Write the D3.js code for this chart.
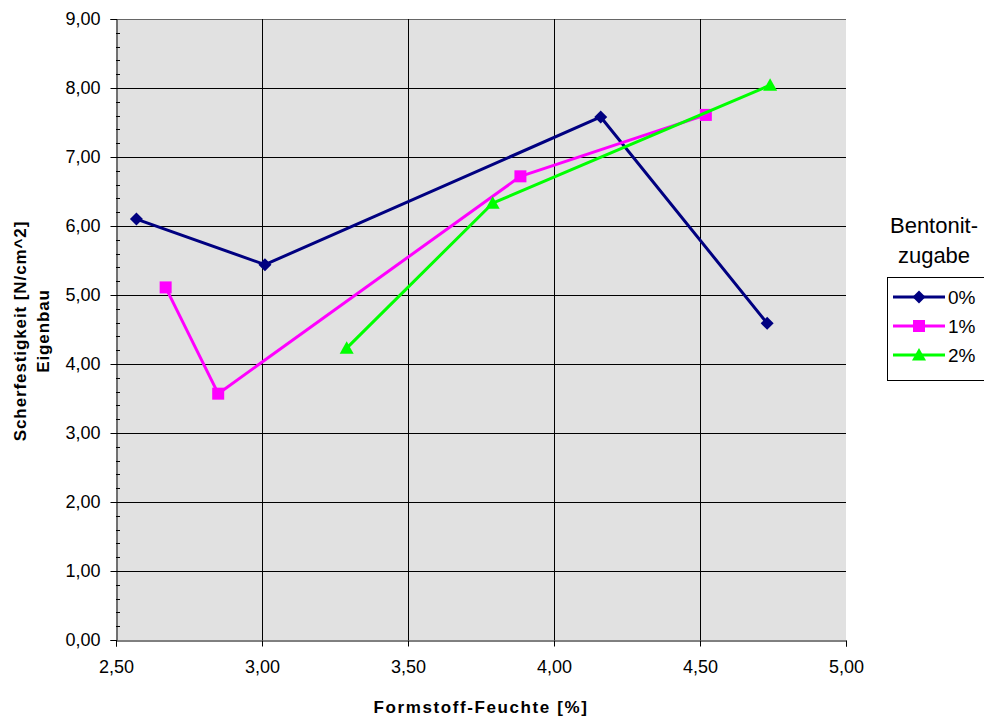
<!DOCTYPE html>
<html>
<head>
<meta charset="utf-8">
<script src="https://cdn.jsdelivr.net/npm/d3@7"></script>
<style>
  html, body { margin: 0; padding: 0; background: #fff; }
  svg { display: block; font-family: Arial, "Liberation Sans", sans-serif; }
</style>
</head>
<body>
<svg id="chart" width="984" height="721"></svg>
<script>
// ---- data ----
const seriesNames = ["0%", "1%", "2%"];
const seriesColors = ["#000080", "#ff00ff", "#00ff00"];
const seriesSymbols = ["diamond", "square", "triangle"];
const x0 = [2.57, 3.01, 4.16, 4.73];
const y0 = [6.10, 5.44, 7.58, 4.59];
const x1 = [2.67, 2.85, 3.885, 4.52];
const y1 = [5.11, 3.57, 6.72, 7.61];
const x2 = [3.29, 3.79, 4.74];
const y2 = [4.23, 6.33, 8.04];
const xTicks = [2.5, 3.0, 3.5, 4.0, 4.5, 5.0];
const yTicks = [0, 1, 2, 3, 4, 5, 6, 7, 8, 9];
const xTitle = "Formstoff-Feuchte [%]";
const yTitleLines = ["Scherfestigkeit [N/cm^2]", "Eigenbau"];
const legendTitle = ["Bentonit-", "zugabe"];

const seriesX = [x0, x1, x2];
const seriesY = [y0, y1, y2];

// ---- layout ----
const svg = d3.select("#chart");
const L = 116, R = 846, T = 19, B = 640;
const x = d3.scaleLinear().domain([2.5, 5.0]).range([L, R]);
const y = d3.scaleLinear().domain([0, 9]).range([B, T]);
const fmt = v => d3.format(".2f")(v).replace(".", ",");
const FONT = "Arial, 'Liberation Sans', sans-serif";

svg.append("rect").attr("x", L).attr("y", T).attr("width", R - L).attr("height", B - T)
  .attr("fill", "#e1e1e1");

// gridlines
svg.append("g").selectAll("line").data(yTicks.filter(v => v > 0)).join("line")
  .attr("x1", L).attr("x2", R).attr("y1", d => Math.round(y(d)) + 0.5).attr("y2", d => Math.round(y(d)) + 0.5)
  .attr("stroke", d => d === 9 ? "#666" : "#000").attr("stroke-width", 1);
svg.append("g").selectAll("line").data(xTicks.filter(v => v > 2.5 && v < 5)).join("line")
  .attr("y1", T).attr("y2", B).attr("x1", d => Math.round(x(d)) + 0.5).attr("x2", d => Math.round(x(d)) + 0.5)
  .attr("stroke", "#000").attr("stroke-width", 1);

// y axis
const yAxis = svg.append("g").attr("transform", `translate(${L + 0.5},0)`)
  .call(d3.axisLeft(y).tickValues(yTicks).tickFormat(fmt).tickSize(6).tickPadding(10));
yAxis.select(".domain").attr("stroke", "#000");
yAxis.selectAll("text").attr("font-size", 18).attr("fill", "#000").attr("font-family", FONT);
// minor ticks (inside)
const minor = d3.range(0, 9.001, 0.2).filter(v => Math.abs(v - Math.round(v)) > 0.01);
svg.append("g").selectAll("line").data(minor).join("line")
  .attr("x1", L).attr("x2", L + 4).attr("y1", d => Math.round(y(d)) + 0.5).attr("y2", d => Math.round(y(d)) + 0.5)
  .attr("stroke", "#000");

// x axis
const xAxis = svg.append("g").attr("transform", `translate(0,${B + 0.5})`)
  .call(d3.axisBottom(x).tickValues(xTicks).tickFormat(fmt).tickSize(6).tickPadding(14));
xAxis.select(".domain").attr("stroke", "#000");
xAxis.selectAll("text").attr("font-size", 18).attr("fill", "#000").attr("font-family", FONT);

// axis titles
svg.append("text").attr("x", 481).attr("y", 713).attr("text-anchor", "middle")
  .attr("font-size", 17).attr("font-weight", "bold").attr("letter-spacing", 1.6).text(xTitle);
const yt = svg.append("text").attr("transform", `translate(25.5,331) rotate(-90)`)
  .attr("text-anchor", "middle").attr("font-size", 17).attr("font-weight", "bold").attr("letter-spacing", 0.9);
yTitleLines.forEach((t, i) => yt.append("tspan").attr("x", 0).attr("dy", i === 0 ? 0 : 23.5).text(t));

// series
const markerPath = {
  diamond: "M0,-6.5L6.5,0L0,6.5L-6.5,0Z",
  square: "M-6,-6H6V6H-6Z",
  triangle: "M0,-7L7,5.5H-7Z"
};
const line = d3.line().x(d => x(d[0])).y(d => y(d[1]));
seriesNames.forEach((name, i) => {
  const pts = seriesX[i].map((v, j) => [v, seriesY[i][j]]);
  const g = svg.append("g");
  g.append("path").attr("d", line(pts)).attr("fill", "none")
    .attr("stroke", seriesColors[i]).attr("stroke-width", 3).attr("stroke-linejoin", "round");
  g.selectAll("path.m").data(pts).join("path").attr("class", "m")
    .attr("transform", d => `translate(${x(d[0])},${y(d[1])})`)
    .attr("d", markerPath[seriesSymbols[i]])
    .attr("fill", seriesColors[i]);
});

// legend
svg.append("text").attr("x", 934).attr("y", 233).attr("text-anchor", "middle").attr("font-size", 22).text(legendTitle[0]);
svg.append("text").attr("x", 934).attr("y", 263).attr("text-anchor", "middle").attr("font-size", 22).text(legendTitle[1]);
svg.append("rect").attr("x", 887.5).attr("y", 277.5).attr("width", 100).attr("height", 103)
  .attr("fill", "#fff").attr("stroke", "#000").attr("stroke-width", 1);
seriesNames.forEach((name, i) => {
  const ly = 297 + i * 29;
  svg.append("line").attr("x1", 893).attr("x2", 945).attr("y1", ly).attr("y2", ly)
    .attr("stroke", seriesColors[i]).attr("stroke-width", 3);
  svg.append("path").attr("transform", `translate(919,${ly})`)
    .attr("d", markerPath[seriesSymbols[i]])
    .attr("fill", seriesColors[i]);
  svg.append("text").attr("x", 948).attr("y", ly + 6.5).attr("font-size", 19).text(name);
});
</script>
</body>
</html>
